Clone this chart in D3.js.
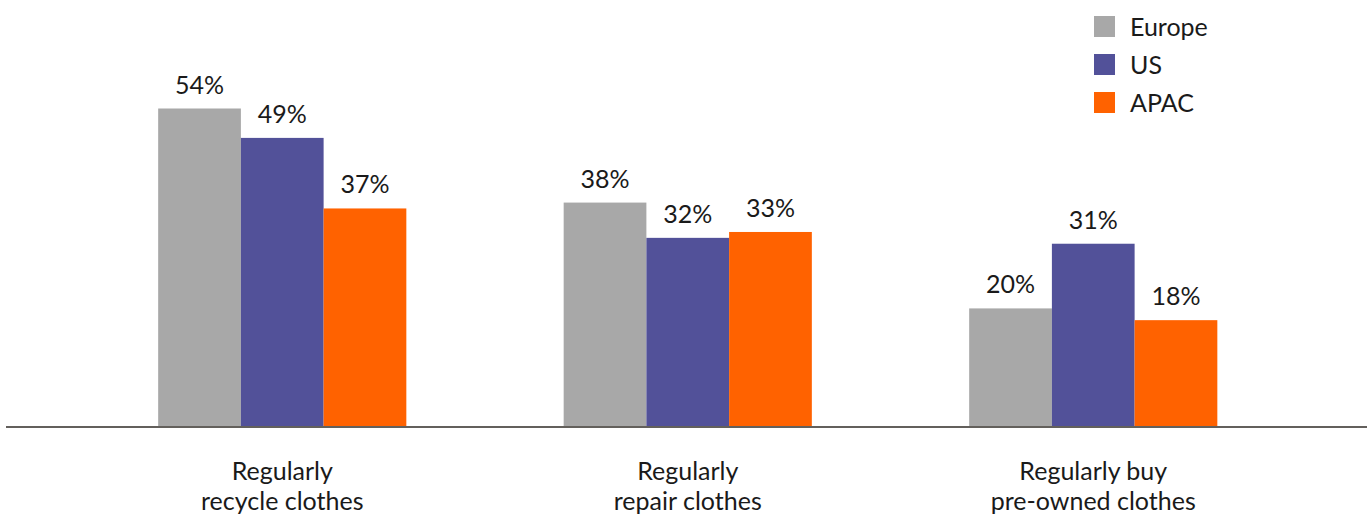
<!DOCTYPE html>
<html>
<head>
<meta charset="utf-8">
<script src="https://cdn.jsdelivr.net/npm/d3@7"></script>
<style>
  html, body { margin: 0; padding: 0; background: #fff; }
  svg { display: block; font-family: Lato, "Open Sans", sans-serif; }
</style>
</head>
<body>
<svg id="chart" width="1370" height="516"></svg>
<script>
const categories = [["Regularly", "recycle clothes"], ["Regularly", "repair clothes"], ["Regularly buy", "pre-owned clothes"]];
const seriesNames = ["Europe", "US", "APAC"];
const europe = [54, 38, 20];
const us = [49, 32, 31];
const apac = [37, 33, 18];
const colors = ["#a8a8a8", "#525199", "#ff6200"];
const seriesValues = [europe, us, apac];

const svg = d3.select("#chart");
const baseY = 426;

const x0 = d3.scaleBand()
  .domain(d3.range(categories.length))
  .range([79.5, 1296])
  .paddingInner(0.388)
  .paddingOuter(0.194);

const x1 = d3.scaleBand()
  .domain(seriesNames)
  .range([0, x0.bandwidth()])
  .padding(0);

const y = d3.scaleLinear().domain([0, 54]).range([baseY, 108.5]);

const color = d3.scaleOrdinal().domain(seriesNames).range(colors);

const groups = svg.append("g").selectAll("g")
  .data(categories.map((c, i) => ({ i, vals: seriesNames.map((s, k) => ({ s, v: seriesValues[k][i] })) })))
  .join("g")
  .attr("transform", d => `translate(${x0(d.i)},0)`);

groups.selectAll("rect")
  .data(d => d.vals)
  .join("rect")
  .attr("x", d => x1(d.s))
  .attr("width", x1.bandwidth())
  .attr("y", d => y(d.v))
  .attr("height", d => baseY - y(d.v))
  .attr("fill", d => color(d.s));

groups.selectAll("text.val")
  .data(d => d.vals)
  .join("text")
  .attr("class", "val")
  .attr("x", d => x1(d.s) + x1.bandwidth() / 2)
  .attr("y", d => y(d.v) - 15)
  .attr("text-anchor", "middle")
  .attr("font-size", 25)
  .attr("fill", "#1a1a1a")
  .text(d => d.v + "%");

// axis line
svg.append("line")
  .attr("x1", 6).attr("x2", 1367)
  .attr("y1", baseY + 1).attr("y2", baseY + 1)
  .attr("stroke", "#63605c")
  .attr("stroke-width", 2.2);

// category labels
const catG = svg.append("g").selectAll("text")
  .data(categories)
  .join("text")
  .attr("text-anchor", "middle")
  .attr("font-size", 25)
  .attr("fill", "#1a1a1a")
  .attr("transform", (d, i) => `translate(${x0(i) + x0.bandwidth() / 2},0)`);
catG.selectAll("tspan")
  .data(d => d)
  .join("tspan")
  .attr("x", 0)
  .attr("y", (d, j) => 480 + j * 30)
  .text(d => d);

// legend
const legend = svg.append("g").selectAll("g")
  .data(seriesNames)
  .join("g")
  .attr("transform", (d, i) => `translate(1094,${16 + i * 38})`);
legend.append("rect")
  .attr("width", 21).attr("height", 21)
  .attr("fill", d => color(d));
legend.append("text")
  .attr("x", 36).attr("y", 20)
  .attr("font-size", 25)
  .attr("fill", "#1a1a1a")
  .text(d => d);
</script>
</body>
</html>
